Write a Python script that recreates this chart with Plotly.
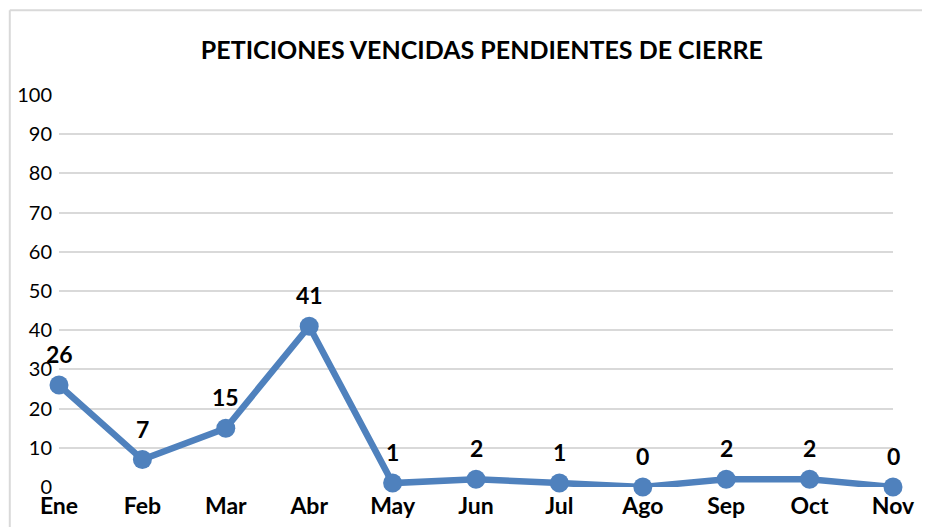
import plotly.graph_objects as go

months = ["Ene", "Feb", "Mar", "Abr", "May", "Jun", "Jul", "Ago", "Sep", "Oct", "Nov"]
values = [26, 7, 15, 41, 1, 2, 1, 0, 2, 2, 0]
y_ticks = [0, 10, 20, 30, 40, 50, 60, 70, 80, 90, 100]
title_text = "PETICIONES VENCIDAS PENDIENTES DE CIERRE"

FONT = "Lato, Carlito, 'DejaVu Sans', sans-serif"
COLOR = "#4F81BD"

fig = go.Figure()
fig.add_trace(go.Scatter(
    x=list(range(len(months))), y=values, mode="lines+markers",
    line=dict(color=COLOR, width=6.5),
    marker=dict(color=COLOR, size=19),
    cliponaxis=False,
    hoverinfo="skip", showlegend=False,
))

for i, v in enumerate(values):
    fig.add_annotation(x=i, y=v, text=f"<b>{v}</b>", showarrow=False,
                       yshift=31, font=dict(family=FONT, size=23, color="#000000"))

# chart-area border (left and top edges visible in the frame)
fig.add_shape(type="line", xref="paper", yref="paper",
              x0=-0.059, x1=-0.059, y0=-0.3, y1=1.216,
              line=dict(color="#D9D9D9", width=2), layer="below")
fig.add_shape(type="line", xref="paper", yref="paper",
              x0=-0.059, x1=1.06, y0=1.216, y1=1.216,
              line=dict(color="#D9D9D9", width=2), layer="below")

fig.update_layout(
    width=922, height=519,
    margin=dict(l=51, r=37, t=87, b=40, autoexpand=False),
    paper_bgcolor="white", plot_bgcolor="white",
    title=dict(text=f"<b>{title_text}</b>", x=0.514, xanchor="center",
               y=0.918, yanchor="middle",
               font=dict(family=FONT, size=25, color="#000000")),
    xaxis=dict(range=[0, len(months) - 1], tickmode="array",
               tickvals=list(range(len(months))),
               ticktext=[f"<b>{m}</b>" for m in months],
               showgrid=False, zeroline=False, showline=False, ticks="",
               automargin=False, ticklabelstandoff=3,
               tickfont=dict(family=FONT, size=23, color="#000000")),
    yaxis=dict(range=[0, 100], tickmode="array", tickvals=y_ticks,
               showgrid=True, gridcolor="#D9D9D9", gridwidth=1.5,
               zeroline=False, showline=False, ticks="",
               automargin=False, ticklabelstandoff=6,
               tickfont=dict(family=FONT, size=20, color="#000000")),
)

fig.write_html("out.html")
